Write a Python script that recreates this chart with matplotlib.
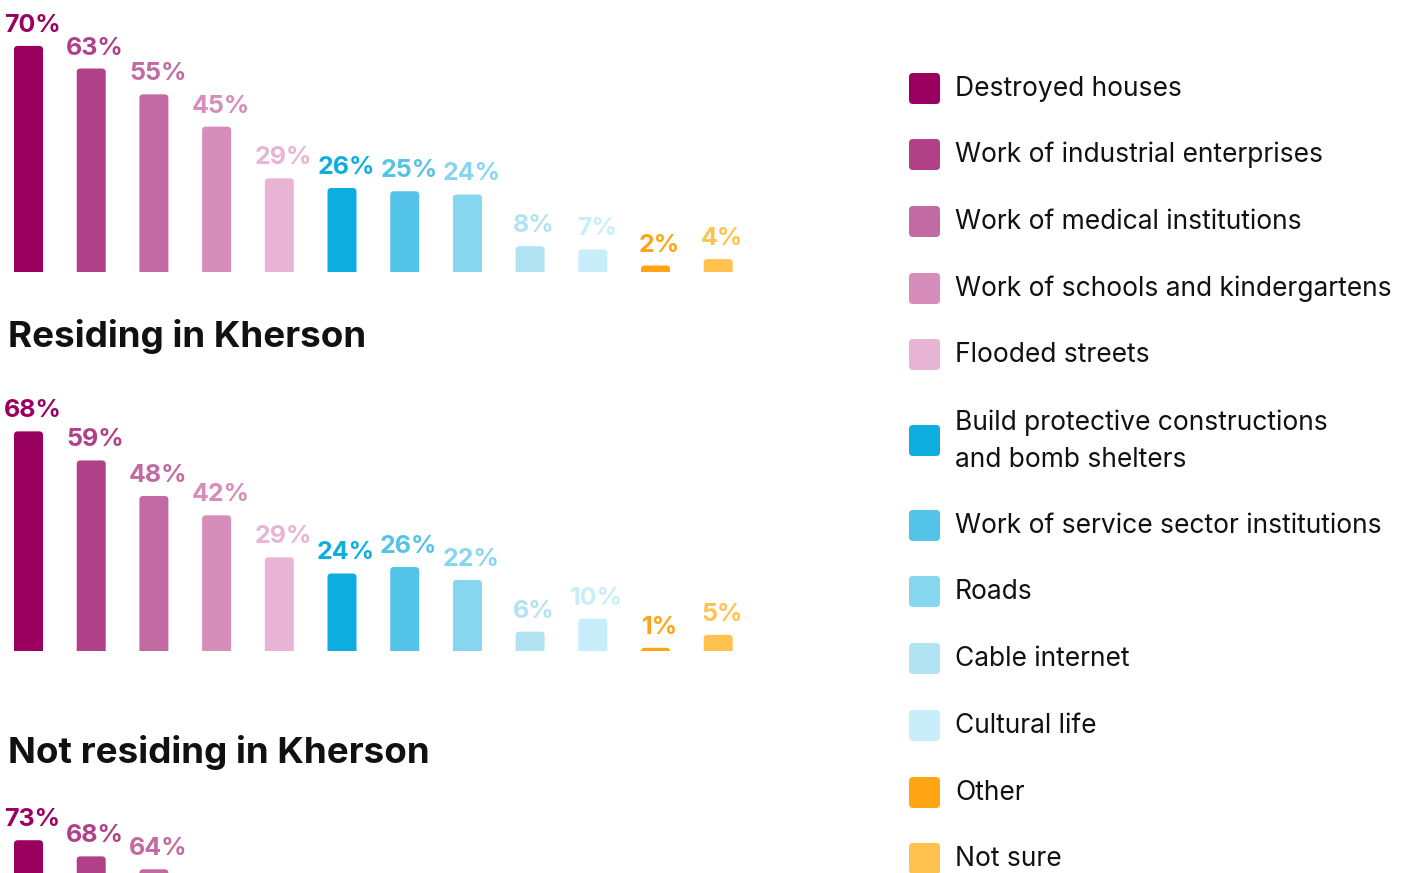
import matplotlib.pyplot as plt
from matplotlib.patches import FancyBboxPatch

plt.rcParams['font.family'] = ['Inter', 'DejaVu Sans']

categories = ['Destroyed houses', 'Work of industrial enterprises', 'Work of medical institutions',
              'Work of schools and kindergartens', 'Flooded streets',
              'Build protective constructions\nand bomb shelters',
              'Work of service sector institutions', 'Roads', 'Cable internet', 'Cultural life',
              'Other', 'Not sure']
colors = ['#9a0060', '#b04188', '#c26aa2', '#d68dba', '#e7b4d5', '#0daedf',
          '#53c3e7', '#86d6ef', '#b1e3f3', '#c8eefa', '#ffa412', '#ffc24f']

all_resp = [70, 63, 55, 45, 29, 26, 25, 24, 8, 7, 2, 4]
residing = [68, 59, 48, 42, 29, 24, 26, 22, 6, 10, 1, 5]
not_residing = [73, 68, 64]  # rest is cut off at the bottom of the picture

W, H = 1407, 873
fig = plt.figure(figsize=(W / 100, H / 100), dpi=100)

scale = 3.23      # px per percent
step = 62.7       # px between bars
first = 28.5      # px centre of first bar
panel_w = 760


def panel(values, baseline):
    h = 300
    ax = fig.add_axes([0, (H - baseline) / H, panel_w / W, h / H])
    ax.set_xlim(-first / step, (panel_w - first) / step)
    ax.set_ylim(0, h / scale)
    ax.axis('off')
    for i, v in enumerate(values):
        bw = 29 / step
        box = FancyBboxPatch((i - bw / 2, -3), bw, v + 3,
                             boxstyle='round,pad=0,rounding_size=0.06',
                             mutation_aspect=step / scale,
                             fc=colors[i], ec='none')
        ax.add_patch(box)
        ax.annotate(f'{v}%', (i, v), xytext=(4, 14), textcoords='offset pixels',
                    ha='center', va='baseline', fontsize=18, fontweight='bold',
                    color=colors[i])
    return ax


panel(all_resp, 272)
panel(residing, 651)
panel(not_residing, 1076)

fig.text(8 / W, 1 - 337 / H, 'Residing in Kherson', fontsize=26.5, fontweight='bold',
         va='center', ha='left', color='#111111')
fig.text(8 / W, 1 - 752 / H, 'Not residing in Kherson', fontsize=26.5, fontweight='bold',
         va='center', ha='left', color='#111111')

# legend
lax = fig.add_axes([0, 0, 1, 1])
lax.set_xlim(0, W)
lax.set_ylim(H, 0)
lax.axis('off')
ys = [89, 155, 222, 289, 355, 441, 526, 592, 659, 726, 793, 859]
for y, lab, c in zip(ys, categories, colors):
    lax.add_patch(FancyBboxPatch((909, y - 16), 31, 31,
                                 boxstyle='round,pad=0,rounding_size=4',
                                 fc=c, ec='none'))
    lax.text(955, y, lab, fontsize=19, va='center', ha='left', color='#111111',
             linespacing=1.55)

fig.savefig('out.png', dpi=100, facecolor='white')
